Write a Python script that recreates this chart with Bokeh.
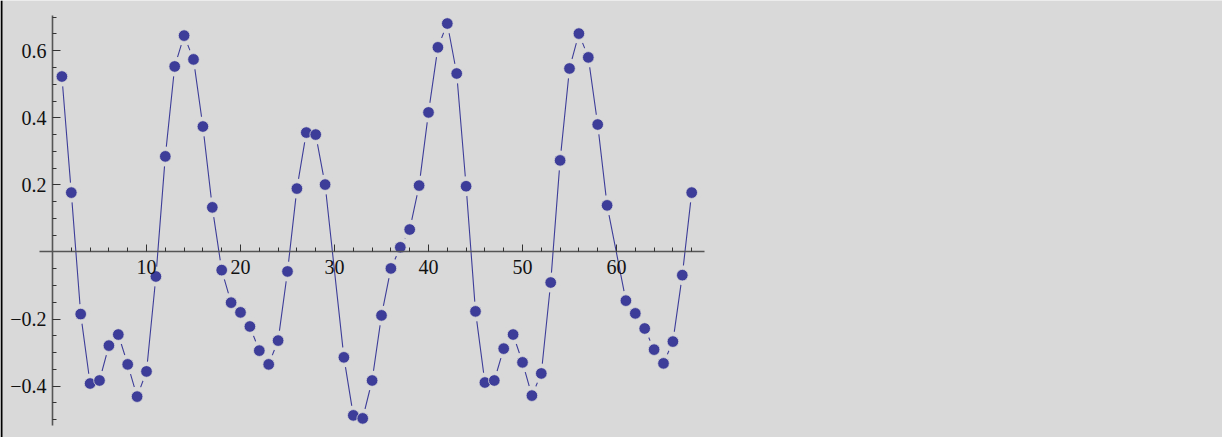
from bokeh.plotting import figure
from bokeh.models import FixedTicker, CustomJSTickFormatter, BoxAnnotation
from bokeh.embed import file_html
from bokeh.resources import INLINE

# ---- data ----
x_vals = [1, 2, 3, 4, 5, 6, 7, 8, 9, 10,
          11, 12, 13, 14, 15, 16, 17, 18, 19, 20,
          21, 22, 23, 24, 25, 26, 27, 28, 29,
          31, 32, 33, 34, 35, 36, 37, 38, 39, 40,
          41, 42, 43, 44, 45, 46, 47, 48, 49, 50,
          51, 52, 53, 54, 55, 56, 57, 58, 59,
          61, 62, 63, 64, 65, 66, 67, 68]
y_vals = [0.523, 0.177, -0.185, -0.392, -0.383, -0.279, -0.246, -0.335, -0.431, -0.356,
          -0.073, 0.285, 0.553, 0.645, 0.574, 0.374, 0.133, -0.054, -0.151, -0.180,
          -0.222, -0.294, -0.335, -0.264, -0.058, 0.189, 0.356, 0.350, 0.201,
          -0.314, -0.487, -0.496, -0.383, -0.189, -0.049, 0.014, 0.067, 0.198, 0.416,
          0.610, 0.681, 0.532, 0.196, -0.177, -0.389, -0.383, -0.288, -0.246, -0.329,
          -0.428, -0.362, -0.091, 0.273, 0.547, 0.651, 0.580, 0.380, 0.139,
          -0.145, -0.183, -0.228, -0.291, -0.332, -0.267, -0.069, 0.177]

x_major_ticks = [10, 20, 30, 40, 50, 60]
x_minor_ticks = [2, 4, 6, 8, 12, 14, 16, 18, 22, 24, 26, 28, 32, 34, 36, 38,
                 42, 44, 46, 48, 52, 54, 56, 58, 62, 64, 66, 68]
y_major_ticks = [-0.4, -0.2, 0.2, 0.4, 0.6]
y_minor_ticks = [-0.5, -0.45, -0.35, -0.3, -0.25, -0.15, -0.1, -0.05, 0.05, 0.1,
                 0.15, 0.25, 0.3, 0.35, 0.45, 0.5, 0.55, 0.65, 0.7]
y_tick_labels = {-0.4: "\u22120.4", -0.2: "\u22120.2", 0.2: "0.2", 0.4: "0.4", 0.6: "0.6"}

BG = "#d9d9d9"
COL = "#3d3d99"
FONT = "Liberation Serif"

p = figure(width=1222, height=437,
           x_range=(-5.532, 124.468), y_range=(-0.5529, 0.7496),
           output_backend="svg", toolbar_location=None,
           min_border=0, min_border_left=0, min_border_right=0,
           min_border_top=0, min_border_bottom=0,
           background_fill_color=BG, border_fill_color=BG)
p.outline_line_color = None
p.xgrid.visible = False
p.ygrid.visible = False

# axes crossing at the origin, Mathematica style
p.xaxis.fixed_location = 0
p.yaxis.fixed_location = 0
p.xaxis.bounds = (-1.36, 69.36)
p.yaxis.bounds = (-0.5185, 0.705)
p.xaxis.ticker = FixedTicker(ticks=x_major_ticks, minor_ticks=x_minor_ticks)
p.yaxis.ticker = FixedTicker(ticks=y_major_ticks, minor_ticks=y_minor_ticks)
p.yaxis.formatter = CustomJSTickFormatter(
    code="return (tick < 0 ? '\\u2212' : '') + Math.abs(tick).toFixed(1);")

for ax in (p.xaxis[0], p.yaxis[0]):
    ax.axis_line_color = "#555555"
    ax.axis_line_width = 1.6
    ax.major_tick_line_color = "#333333"
    ax.major_tick_line_width = 1
    ax.minor_tick_line_color = "#333333"
    ax.minor_tick_line_width = 1
    ax.major_tick_out = 0
    ax.minor_tick_out = 0
    ax.major_label_text_font = FONT
    ax.major_label_text_font_size = "20px"
    ax.major_label_text_color = "#111111"
    if "major_label_background_fill_color" in ax.properties():
        ax.major_label_background_fill_color = BG

p.xaxis.major_tick_in = 7
p.xaxis.minor_tick_in = 4
p.yaxis.major_tick_in = 8
p.yaxis.minor_tick_in = 4
p.xaxis.major_label_standoff = 8
p.yaxis.major_label_standoff = 6

# joined line, then background halos, then the markers
p.line(x_vals, y_vals, line_color=COL, line_width=1.1)
p.scatter(x_vals, y_vals, size=20, fill_color=BG, line_color=None)
p.scatter(x_vals, y_vals, size=11.6, fill_color=COL, line_color=BG, line_width=0.8)

# dark frame edge on the left
p.add_layout(BoxAnnotation(left=0, right=2, left_units="screen", right_units="screen",
                           fill_color="black", fill_alpha=1, line_color=None))

open("out.html", "w").write(file_html(p, INLINE))
